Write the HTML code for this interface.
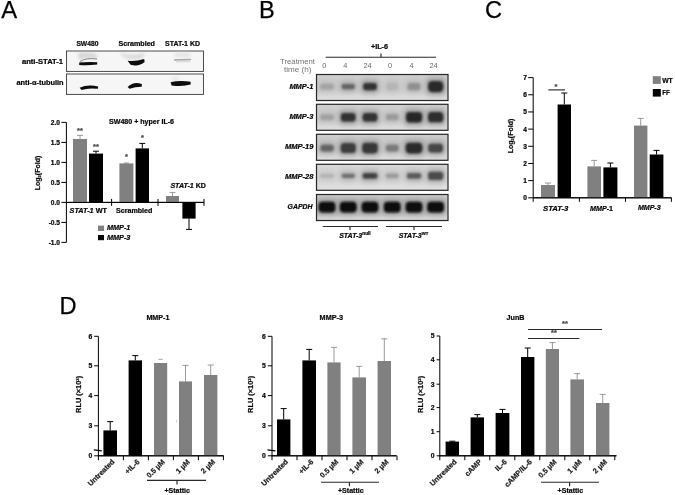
<!DOCTYPE html>
<html lang="en"><head><meta charset="utf-8"><title>Figure</title>
<style>
html,body{margin:0;padding:0;background:#fff;}
body{width:675px;height:495px;overflow:hidden;}
svg{display:block;font-family:"Liberation Sans",sans-serif;}
</style></head><body>
<svg width="675" height="495" viewBox="0 0 675 495">
<defs>
<filter id="b1" x="-30%" y="-60%" width="160%" height="220%"><feGaussianBlur stdDeviation="0.7"/></filter>
<filter id="b2" x="-30%" y="-60%" width="160%" height="220%"><feGaussianBlur stdDeviation="1.6"/></filter>
<filter id="b3" x="-30%" y="-60%" width="160%" height="220%"><feGaussianBlur stdDeviation="2.4"/></filter>
<filter id="b15" x="-30%" y="-60%" width="160%" height="220%"><feGaussianBlur stdDeviation="1.25"/></filter>
<filter id="soft"><feGaussianBlur stdDeviation="0.35"/></filter>
</defs>
<rect width="675" height="495" fill="#fff"/>
<g filter="url(#soft)">

<text x="1.3" y="18" font-size="23.8" font-weight="normal" fill="#000" stroke="#000" stroke-width="0.25">A</text>
<text x="259" y="18" font-size="23.6" font-weight="normal" fill="#000" stroke="#000" stroke-width="0.25">B</text>
<text x="485" y="18.2" font-size="23.6" font-weight="normal" fill="#000" stroke="#000" stroke-width="0.25">C</text>
<text x="59.5" y="314.4" font-size="23.6" font-weight="normal" fill="#000" stroke="#000" stroke-width="0.25">D</text>
<text x="76.4" y="45.6" font-size="7" font-weight="bold" stroke="#1a1a1a" stroke-width="0.22" textLength="22" lengthAdjust="spacingAndGlyphs">SW480</text>
<text x="118.4" y="45.6" font-size="7" font-weight="bold" stroke="#1a1a1a" stroke-width="0.22" textLength="36.6" lengthAdjust="spacingAndGlyphs">Scrambled</text>
<text x="165" y="45.6" font-size="7" font-weight="bold" stroke="#1a1a1a" stroke-width="0.22" textLength="35" lengthAdjust="spacingAndGlyphs">STAT-1 KD</text>
<text x="63" y="63.7" font-size="7" font-weight="bold" text-anchor="end" stroke="#1a1a1a" stroke-width="0.22" textLength="41" lengthAdjust="spacingAndGlyphs">anti-STAT-1</text>
<text x="63.6" y="84.5" font-size="7" font-weight="bold" text-anchor="end" stroke="#1a1a1a" stroke-width="0.22" textLength="47.2" lengthAdjust="spacingAndGlyphs">anti-α-tubulin</text>
<rect x="66.5" y="51" width="137" height="20.4" fill="#f6f6f6" stroke="#3a3a3a" stroke-width="0.9"/>
<rect x="66.5" y="74" width="137" height="20.4" fill="#f6f6f6" stroke="#3a3a3a" stroke-width="0.9"/>
<g filter="url(#b2)" opacity="0.55">
<path d="M78 53 Q88 51 97 54 L97 59 Q88 57 79 60Z" fill="#bdbdbd"/>
<path d="M120 52.5 Q132 57 145 52.5 L143 58 Q133 61 123 57Z" fill="#c4c4c4"/>
<rect x="175" y="52.5" width="15" height="5" fill="#d8d8d8"/>
<rect x="172" y="77" width="7" height="3.5" fill="#d8d8d8"/>
</g>
<g filter="url(#b1)">
<path d="M79.2 62.6 Q88 61.4 97.2 62.2 L97.2 64.6 Q88 65.6 79.2 65Z" fill="#0a0a0a"/>
<path d="M80 61.6 Q86 57.4 97 59" stroke="#8a8a8a" stroke-width="1" fill="none"/>
<path d="M127.6 60.8 Q136 61.6 144.2 59 L144.6 62 Q139 67 130.6 64.8Z" fill="#0a0a0a"/>
<path d="M174 59.2 L191 58.8 L191 60.2 L174 60.8Z" fill="#a5a5a5"/>
<path d="M176 62 L190 61.6" stroke="#c8c8c8" stroke-width="0.8"/>
<path d="M79.6 87.8 Q88 83.8 98.2 86.6 L97.8 88.8 Q88 87.6 81.6 90Z" fill="#0a0a0a"/>
<path d="M127.6 87 Q134 81 142 84.2 L141.6 86.8 Q135 87 129.6 88.8Z" fill="#0a0a0a"/>
<path d="M170.6 82.2 Q180 79.8 190.6 81.8 L190.6 84.6 Q182 87 171.6 85.4Z" fill="#0a0a0a"/>
</g>
<line x1="66.4" y1="122.4" x2="66.4" y2="242.4" stroke="#000" stroke-width="1"/>
<line x1="61.400000000000006" y1="122.4" x2="66.4" y2="122.4" stroke="#000" stroke-width="1"/>
<text x="60.00000000000001" y="124.80000000000001" font-size="6.6" font-weight="bold" text-anchor="end" stroke="#1a1a1a" stroke-width="0.22">2.0</text>
<line x1="61.400000000000006" y1="142.4" x2="66.4" y2="142.4" stroke="#000" stroke-width="1"/>
<text x="60.00000000000001" y="144.8" font-size="6.6" font-weight="bold" text-anchor="end" stroke="#1a1a1a" stroke-width="0.22">1.5</text>
<line x1="61.400000000000006" y1="162.4" x2="66.4" y2="162.4" stroke="#000" stroke-width="1"/>
<text x="60.00000000000001" y="164.8" font-size="6.6" font-weight="bold" text-anchor="end" stroke="#1a1a1a" stroke-width="0.22">1.0</text>
<line x1="61.400000000000006" y1="182.4" x2="66.4" y2="182.4" stroke="#000" stroke-width="1"/>
<text x="60.00000000000001" y="184.8" font-size="6.6" font-weight="bold" text-anchor="end" stroke="#1a1a1a" stroke-width="0.22">0.5</text>
<line x1="61.400000000000006" y1="202.4" x2="66.4" y2="202.4" stroke="#000" stroke-width="1"/>
<text x="60.00000000000001" y="204.8" font-size="6.6" font-weight="bold" text-anchor="end" stroke="#1a1a1a" stroke-width="0.22">0.0</text>
<line x1="61.400000000000006" y1="222.4" x2="66.4" y2="222.4" stroke="#000" stroke-width="1"/>
<text x="60.00000000000001" y="224.8" font-size="6.6" font-weight="bold" text-anchor="end" stroke="#1a1a1a" stroke-width="0.22">-0.5</text>
<line x1="61.400000000000006" y1="242.4" x2="66.4" y2="242.4" stroke="#000" stroke-width="1"/>
<text x="60.00000000000001" y="244.8" font-size="6.6" font-weight="bold" text-anchor="end" stroke="#1a1a1a" stroke-width="0.22">-1.0</text>
<line x1="66.4" y1="202.4" x2="204" y2="202.4" stroke="#000" stroke-width="1"/>
<line x1="111.6" y1="198.9" x2="111.6" y2="205.9" stroke="#000" stroke-width="1"/>
<line x1="158" y1="198.9" x2="158" y2="205.9" stroke="#000" stroke-width="1"/>
<line x1="204" y1="198.9" x2="204" y2="205.9" stroke="#000" stroke-width="1"/>
<text x="39.5" y="173" font-size="7" font-weight="bold" text-anchor="middle" stroke="#1a1a1a" stroke-width="0.22" transform="rotate(-90 39.5 173)">Log<tspan font-size="4" dy="1">2</tspan><tspan dy="-1">(Fold)</tspan></text>
<text x="109" y="124" font-size="7" font-weight="bold" stroke="#1a1a1a" stroke-width="0.22" textLength="65" lengthAdjust="spacingAndGlyphs">SW480 + hyper IL-6</text>
<line x1="80.0" y1="139" x2="80.0" y2="135.4" stroke="#808080" stroke-width="0.8"/>
<line x1="77.0" y1="135.4" x2="83.0" y2="135.4" stroke="#808080" stroke-width="0.8"/>
<rect x="73.0" y="139.0" width="14.0" height="63.4" fill="#808080"/>
<line x1="96.0" y1="153.6" x2="96.0" y2="151.2" stroke="#000" stroke-width="1"/>
<line x1="93.0" y1="151.2" x2="99.0" y2="151.2" stroke="#000" stroke-width="1"/>
<rect x="89.0" y="153.6" width="14.0" height="48.8" fill="#000"/>
<line x1="126.4" y1="163.4" x2="126.4" y2="163.0" stroke="#808080" stroke-width="0.8"/>
<line x1="123.9" y1="163.0" x2="128.9" y2="163.0" stroke="#808080" stroke-width="0.8"/>
<rect x="119.4" y="163.4" width="14.0" height="39.0" fill="#808080"/>
<line x1="142.3" y1="148.4" x2="142.3" y2="143.4" stroke="#000" stroke-width="1"/>
<line x1="139.3" y1="143.4" x2="145.3" y2="143.4" stroke="#000" stroke-width="1"/>
<rect x="135.6" y="148.4" width="13.4" height="54.0" fill="#000"/>
<line x1="172.5" y1="196" x2="172.5" y2="192.4" stroke="#808080" stroke-width="0.8"/>
<line x1="169.5" y1="192.4" x2="175.5" y2="192.4" stroke="#808080" stroke-width="0.8"/>
<rect x="166.0" y="196.0" width="13.0" height="6.4" fill="#808080"/>
<line x1="189.0" y1="218.6" x2="189.0" y2="229.4" stroke="#000" stroke-width="1"/>
<line x1="186.0" y1="229.4" x2="192.0" y2="229.4" stroke="#000" stroke-width="1"/>
<rect x="182.4" y="202.4" width="13.2" height="16.2" fill="#000"/>
<line x1="66.4" y1="202.4" x2="204" y2="202.4" stroke="#000" stroke-width="1"/>
<text x="80" y="132.6" font-size="7.4" font-weight="bold" text-anchor="middle" fill="#484848" stroke="#484848" stroke-width="0.22">**</text>
<text x="96" y="148.6" font-size="7.4" font-weight="bold" text-anchor="middle" fill="#484848" stroke="#484848" stroke-width="0.22">**</text>
<text x="126.4" y="159.2" font-size="7.4" font-weight="bold" text-anchor="middle" fill="#484848" stroke="#484848" stroke-width="0.22">*</text>
<text x="142.4" y="139.6" font-size="7.4" font-weight="bold" text-anchor="middle" fill="#484848" stroke="#484848" stroke-width="0.22">*</text>
<text x="69.6" y="213.4" font-size="7" font-weight="bold" stroke="#1a1a1a" stroke-width="0.22" textLength="37.4" lengthAdjust="spacingAndGlyphs"><tspan font-style="italic">STAT-1</tspan> WT</text>
<text x="116" y="213.4" font-size="7" font-weight="bold" stroke="#1a1a1a" stroke-width="0.22" textLength="36.4" lengthAdjust="spacingAndGlyphs">Scrambled</text>
<text x="170.4" y="187.6" font-size="7" font-weight="bold" stroke="#1a1a1a" stroke-width="0.22" textLength="35.6" lengthAdjust="spacingAndGlyphs"><tspan font-style="italic">STAT-1</tspan> KD</text>
<rect x="98.0" y="225.6" width="6.0" height="5.4" fill="#808080"/>
<rect x="98.0" y="235.0" width="6.0" height="5.2" fill="#000"/>
<text x="107" y="230.2" font-size="7" font-weight="bold" font-style="italic" stroke="#1a1a1a" stroke-width="0.22" textLength="23.4" lengthAdjust="spacingAndGlyphs">MMP-1</text>
<text x="107" y="239.6" font-size="7" font-weight="bold" font-style="italic" stroke="#1a1a1a" stroke-width="0.22" textLength="23.4" lengthAdjust="spacingAndGlyphs">MMP-3</text>
<text x="371" y="49.3" font-size="7" font-weight="bold" stroke="#1a1a1a" stroke-width="0.22" textLength="17" lengthAdjust="spacingAndGlyphs">+IL-6</text>
<line x1="325.6" y1="57.2" x2="436" y2="57.2" stroke="#2a2a2a" stroke-width="1.15"/>
<line x1="381" y1="53.4" x2="381" y2="57.2" stroke="#2a2a2a" stroke-width="1.15"/>
<text x="315" y="64" font-size="7.6" font-weight="normal" text-anchor="end" fill="#727272" textLength="35" lengthAdjust="spacingAndGlyphs">Treatment</text>
<text x="311.4" y="71.8" font-size="7.6" font-weight="normal" text-anchor="end" fill="#727272" textLength="27.4" lengthAdjust="spacingAndGlyphs">time (h)</text>
<text x="324.4" y="68" font-size="7.4" font-weight="normal" text-anchor="middle" fill="#6a6a6a">0</text>
<text x="345.4" y="68" font-size="7.4" font-weight="normal" text-anchor="middle" fill="#6a6a6a">4</text>
<text x="367.6" y="68" font-size="7.4" font-weight="normal" text-anchor="middle" fill="#6a6a6a">24</text>
<text x="390" y="68" font-size="7.4" font-weight="normal" text-anchor="middle" fill="#6a6a6a">0</text>
<text x="411.6" y="68" font-size="7.4" font-weight="normal" text-anchor="middle" fill="#6a6a6a">4</text>
<text x="433.6" y="68" font-size="7.4" font-weight="normal" text-anchor="middle" fill="#6a6a6a">24</text>
<clipPath id="cMMP-1"><rect x="316.5" y="74.5" width="131.5" height="26"/></clipPath>
<rect x="316.5" y="74.5" width="131.5" height="26" fill="#cfcfcf"/>
<g clip-path="url(#cMMP-1)">
<rect x="316" y="93.5" width="133" height="9" fill="#e2e2e2" opacity="0.7" filter="url(#b3)"/>
<rect x="318.0" y="80.3" width="18.0" height="12.5" rx="4" fill="#555" opacity="0.12" filter="url(#b3)"/>
<rect x="320.1" y="83.8" width="13.8" height="5.7" rx="2.3" fill="#1c1c1c" opacity="0.16" filter="url(#b15)"/>
<rect x="339.4" y="80.6" width="17.5" height="12.0" rx="4" fill="#555" opacity="0.25" filter="url(#b3)"/>
<rect x="341.6" y="84.0" width="13.3" height="5.2" rx="2.1" fill="#1c1c1c" opacity="0.52" filter="url(#b15)"/>
<rect x="361.0" y="79.6" width="18.0" height="14.0" rx="4" fill="#555" opacity="0.37" filter="url(#b3)"/>
<rect x="363.1" y="83.0" width="13.8" height="7.2" rx="2.9" fill="#1c1c1c" opacity="0.84" filter="url(#b15)"/>
<rect x="384.2" y="79.6" width="16.0" height="14.0" rx="4" fill="#555" opacity="0.09" filter="url(#b3)"/>
<rect x="386.3" y="83.0" width="11.8" height="7.2" rx="2.9" fill="#1c1c1c" opacity="0.08" filter="url(#b15)"/>
<rect x="405.5" y="79.6" width="17.0" height="14.0" rx="4" fill="#555" opacity="0.16" filter="url(#b3)"/>
<rect x="407.6" y="83.0" width="12.8" height="7.2" rx="2.9" fill="#1c1c1c" opacity="0.26" filter="url(#b15)"/>
<rect x="425.9" y="77.6" width="19.5" height="18.0" rx="4" fill="#555" opacity="0.38" filter="url(#b3)"/>
<rect x="428.0" y="81.0" width="15.3" height="11.2" rx="4.3" fill="#1c1c1c" opacity="0.88" filter="url(#b15)"/>
</g>
<rect x="316.5" y="74.5" width="131.5" height="26" fill="none" stroke="#262626" stroke-width="1.2"/>
<text x="313.4" y="89.0" font-size="7.4" font-weight="bold" font-style="italic" text-anchor="end" stroke="#1a1a1a" stroke-width="0.22" textLength="24" lengthAdjust="spacingAndGlyphs">MMP-1</text>
<clipPath id="cMMP-3"><rect x="316.5" y="104.3" width="131.5" height="26"/></clipPath>
<rect x="316.5" y="104.3" width="131.5" height="26" fill="#d0d0d0"/>
<g clip-path="url(#cMMP-3)">
<rect x="316" y="123.30000000000001" width="133" height="9" fill="#e2e2e2" opacity="0.7" filter="url(#b3)"/>
<rect x="318.0" y="111.0" width="18.0" height="12.5" rx="4" fill="#555" opacity="0.13" filter="url(#b3)"/>
<rect x="320.1" y="114.4" width="13.8" height="5.7" rx="2.3" fill="#1c1c1c" opacity="0.19" filter="url(#b15)"/>
<rect x="338.7" y="109.5" width="19.0" height="15.5" rx="4" fill="#555" opacity="0.37" filter="url(#b3)"/>
<rect x="340.8" y="112.9" width="14.8" height="8.7" rx="3.4" fill="#1c1c1c" opacity="0.84" filter="url(#b15)"/>
<rect x="360.5" y="109.5" width="19.0" height="15.5" rx="4" fill="#555" opacity="0.37" filter="url(#b3)"/>
<rect x="362.6" y="112.9" width="14.8" height="8.7" rx="3.4" fill="#1c1c1c" opacity="0.84" filter="url(#b15)"/>
<rect x="383.7" y="110.7" width="17.0" height="13.0" rx="4" fill="#555" opacity="0.14" filter="url(#b3)"/>
<rect x="385.8" y="114.1" width="12.8" height="6.2" rx="2.5" fill="#1c1c1c" opacity="0.21" filter="url(#b15)"/>
<rect x="403.8" y="108.5" width="20.5" height="17.5" rx="4" fill="#555" opacity="0.39" filter="url(#b3)"/>
<rect x="405.9" y="111.9" width="16.3" height="10.7" rx="4.1" fill="#1c1c1c" opacity="0.90" filter="url(#b15)"/>
<rect x="425.9" y="108.7" width="19.5" height="17.0" rx="4" fill="#555" opacity="0.38" filter="url(#b3)"/>
<rect x="428.0" y="112.1" width="15.3" height="10.2" rx="3.9" fill="#1c1c1c" opacity="0.87" filter="url(#b15)"/>
</g>
<rect x="316.5" y="104.3" width="131.5" height="26" fill="none" stroke="#262626" stroke-width="1.2"/>
<text x="313.4" y="118.8" font-size="7.4" font-weight="bold" font-style="italic" text-anchor="end" stroke="#1a1a1a" stroke-width="0.22" textLength="24" lengthAdjust="spacingAndGlyphs">MMP-3</text>
<clipPath id="cMMP-19"><rect x="316.5" y="134.3" width="131.5" height="26"/></clipPath>
<rect x="316.5" y="134.3" width="131.5" height="26" fill="#cecece"/>
<g clip-path="url(#cMMP-19)">
<rect x="316" y="153.3" width="133" height="9" fill="#e2e2e2" opacity="0.7" filter="url(#b3)"/>
<rect x="318.2" y="141.2" width="17.5" height="13.5" rx="4" fill="#555" opacity="0.25" filter="url(#b3)"/>
<rect x="320.4" y="144.7" width="13.3" height="6.7" rx="2.7" fill="#1c1c1c" opacity="0.51" filter="url(#b15)"/>
<rect x="338.4" y="139.5" width="19.5" height="17.0" rx="4" fill="#555" opacity="0.34" filter="url(#b3)"/>
<rect x="340.6" y="142.9" width="15.3" height="10.2" rx="3.9" fill="#1c1c1c" opacity="0.76" filter="url(#b15)"/>
<rect x="360.0" y="139.2" width="20.0" height="17.5" rx="4" fill="#555" opacity="0.35" filter="url(#b3)"/>
<rect x="362.1" y="142.7" width="15.8" height="10.7" rx="4.1" fill="#1c1c1c" opacity="0.80" filter="url(#b15)"/>
<rect x="383.7" y="141.2" width="17.0" height="13.5" rx="4" fill="#555" opacity="0.20" filter="url(#b3)"/>
<rect x="385.8" y="144.7" width="12.8" height="6.7" rx="2.7" fill="#1c1c1c" opacity="0.39" filter="url(#b15)"/>
<rect x="403.5" y="139.2" width="21.0" height="17.5" rx="4" fill="#555" opacity="0.38" filter="url(#b3)"/>
<rect x="405.6" y="142.7" width="16.8" height="10.7" rx="4.1" fill="#1c1c1c" opacity="0.88" filter="url(#b15)"/>
<rect x="426.1" y="140.2" width="19.0" height="15.5" rx="4" fill="#555" opacity="0.32" filter="url(#b3)"/>
<rect x="428.2" y="143.7" width="14.8" height="8.7" rx="3.4" fill="#1c1c1c" opacity="0.71" filter="url(#b15)"/>
</g>
<rect x="316.5" y="134.3" width="131.5" height="26" fill="none" stroke="#262626" stroke-width="1.2"/>
<text x="313.4" y="148.8" font-size="7.4" font-weight="bold" font-style="italic" text-anchor="end" stroke="#1a1a1a" stroke-width="0.22" textLength="28.5" lengthAdjust="spacingAndGlyphs">MMP-19</text>
<clipPath id="cMMP-28"><rect x="316.5" y="164.3" width="131.5" height="26"/></clipPath>
<rect x="316.5" y="164.3" width="131.5" height="26" fill="#d8d8d8"/>
<g clip-path="url(#cMMP-28)">
<rect x="316" y="183.3" width="133" height="9" fill="#e2e2e2" opacity="0.7" filter="url(#b3)"/>
<rect x="318.0" y="170.6" width="18.0" height="10.5" rx="4" fill="#555" opacity="0.11" filter="url(#b3)"/>
<rect x="320.1" y="174.0" width="13.8" height="3.7" rx="1.6" fill="#1c1c1c" opacity="0.13" filter="url(#b15)"/>
<rect x="339.4" y="170.3" width="17.5" height="11.0" rx="4" fill="#555" opacity="0.24" filter="url(#b3)"/>
<rect x="341.6" y="173.7" width="13.3" height="4.2" rx="1.8" fill="#1c1c1c" opacity="0.48" filter="url(#b15)"/>
<rect x="360.5" y="169.6" width="19.0" height="12.5" rx="4" fill="#555" opacity="0.33" filter="url(#b3)"/>
<rect x="362.6" y="173.0" width="14.8" height="5.7" rx="2.3" fill="#1c1c1c" opacity="0.73" filter="url(#b15)"/>
<rect x="383.7" y="170.1" width="17.0" height="11.5" rx="4" fill="#555" opacity="0.15" filter="url(#b3)"/>
<rect x="385.8" y="173.5" width="12.8" height="4.7" rx="2.0" fill="#1c1c1c" opacity="0.24" filter="url(#b15)"/>
<rect x="404.8" y="169.6" width="18.5" height="12.5" rx="4" fill="#555" opacity="0.27" filter="url(#b3)"/>
<rect x="406.9" y="173.0" width="14.3" height="5.7" rx="2.3" fill="#1c1c1c" opacity="0.58" filter="url(#b15)"/>
<rect x="425.9" y="168.3" width="19.5" height="15.0" rx="4" fill="#555" opacity="0.30" filter="url(#b3)"/>
<rect x="428.0" y="171.7" width="15.3" height="8.2" rx="3.2" fill="#1c1c1c" opacity="0.67" filter="url(#b15)"/>
</g>
<rect x="316.5" y="164.3" width="131.5" height="26" fill="none" stroke="#262626" stroke-width="1.2"/>
<text x="313.4" y="178.8" font-size="7.4" font-weight="bold" font-style="italic" text-anchor="end" stroke="#1a1a1a" stroke-width="0.22" textLength="28.5" lengthAdjust="spacingAndGlyphs">MMP-28</text>
<clipPath id="cGAPDH"><rect x="316.5" y="194.5" width="131.5" height="26"/></clipPath>
<rect x="316.5" y="194.5" width="131.5" height="26" fill="#cbcbcb"/>
<g clip-path="url(#cGAPDH)">
<rect x="316" y="213.5" width="133" height="9" fill="#e2e2e2" opacity="0.7" filter="url(#b3)"/>
<rect x="316.5" y="198.4" width="21.0" height="17.5" rx="4" fill="#555" opacity="0.40" filter="url(#b3)"/>
<rect x="318.6" y="201.8" width="16.8" height="10.7" rx="4.1" fill="#0a0a0a" opacity="1.00" filter="url(#b15)"/>
<rect x="337.7" y="198.4" width="21.0" height="17.5" rx="4" fill="#555" opacity="0.40" filter="url(#b3)"/>
<rect x="339.8" y="201.8" width="16.8" height="10.7" rx="4.1" fill="#0a0a0a" opacity="1.00" filter="url(#b15)"/>
<rect x="359.5" y="198.4" width="21.0" height="17.5" rx="4" fill="#555" opacity="0.40" filter="url(#b3)"/>
<rect x="361.6" y="201.8" width="16.8" height="10.7" rx="4.1" fill="#0a0a0a" opacity="1.00" filter="url(#b15)"/>
<rect x="381.7" y="198.4" width="21.0" height="17.5" rx="4" fill="#555" opacity="0.40" filter="url(#b3)"/>
<rect x="383.8" y="201.8" width="16.8" height="10.7" rx="4.1" fill="#0a0a0a" opacity="1.00" filter="url(#b15)"/>
<rect x="403.5" y="198.4" width="21.0" height="17.5" rx="4" fill="#555" opacity="0.40" filter="url(#b3)"/>
<rect x="405.6" y="201.8" width="16.8" height="10.7" rx="4.1" fill="#0a0a0a" opacity="1.00" filter="url(#b15)"/>
<rect x="425.1" y="198.4" width="21.0" height="17.5" rx="4" fill="#555" opacity="0.40" filter="url(#b3)"/>
<rect x="427.2" y="201.8" width="16.8" height="10.7" rx="4.1" fill="#0a0a0a" opacity="1.00" filter="url(#b15)"/>
</g>
<rect x="316.5" y="194.5" width="131.5" height="26" fill="none" stroke="#262626" stroke-width="1.2"/>
<text x="312.6" y="209.0" font-size="7.4" font-weight="bold" font-style="italic" text-anchor="end" stroke="#1a1a1a" stroke-width="0.22" textLength="25" lengthAdjust="spacingAndGlyphs">GAPDH</text>
<line x1="322.7" y1="226.5" x2="378" y2="226.5" stroke="#2a2a2a" stroke-width="1.15"/>
<line x1="386" y1="226.5" x2="442" y2="226.5" stroke="#2a2a2a" stroke-width="1.15"/>
<line x1="350" y1="226.5" x2="350" y2="230" stroke="#2a2a2a" stroke-width="1.15"/>
<line x1="414" y1="226.5" x2="414" y2="230" stroke="#2a2a2a" stroke-width="1.15"/>
<text x="339.2" y="237.6" font-size="7" font-weight="bold" font-style="italic" stroke="#1a1a1a" stroke-width="0.22">STAT-3<tspan font-size="4.7" dy="-2.4" font-style="normal">null</tspan></text>
<text x="398.7" y="237.6" font-size="7" font-weight="bold" font-style="italic" stroke="#1a1a1a" stroke-width="0.22">STAT-3<tspan font-size="4.3" dy="-2.4" font-style="normal">WT</tspan></text>
<line x1="533.2" y1="77.6" x2="533.2" y2="197.8" stroke="#000" stroke-width="1"/>
<line x1="528.2" y1="197.8" x2="533.2" y2="197.8" stroke="#000" stroke-width="1"/>
<text x="527.0" y="200.20000000000002" font-size="6.6" font-weight="bold" text-anchor="end" stroke="#1a1a1a" stroke-width="0.22">0</text>
<line x1="528.2" y1="180.63" x2="533.2" y2="180.63" stroke="#000" stroke-width="1"/>
<text x="527.0" y="183.03" font-size="6.6" font-weight="bold" text-anchor="end" stroke="#1a1a1a" stroke-width="0.22">1</text>
<line x1="528.2" y1="163.46" x2="533.2" y2="163.46" stroke="#000" stroke-width="1"/>
<text x="527.0" y="165.86" font-size="6.6" font-weight="bold" text-anchor="end" stroke="#1a1a1a" stroke-width="0.22">2</text>
<line x1="528.2" y1="146.29000000000002" x2="533.2" y2="146.29000000000002" stroke="#000" stroke-width="1"/>
<text x="527.0" y="148.69000000000003" font-size="6.6" font-weight="bold" text-anchor="end" stroke="#1a1a1a" stroke-width="0.22">3</text>
<line x1="528.2" y1="129.12" x2="533.2" y2="129.12" stroke="#000" stroke-width="1"/>
<text x="527.0" y="131.52" font-size="6.6" font-weight="bold" text-anchor="end" stroke="#1a1a1a" stroke-width="0.22">4</text>
<line x1="528.2" y1="111.95" x2="533.2" y2="111.95" stroke="#000" stroke-width="1"/>
<text x="527.0" y="114.35000000000001" font-size="6.6" font-weight="bold" text-anchor="end" stroke="#1a1a1a" stroke-width="0.22">5</text>
<line x1="528.2" y1="94.78" x2="533.2" y2="94.78" stroke="#000" stroke-width="1"/>
<text x="527.0" y="97.18" font-size="6.6" font-weight="bold" text-anchor="end" stroke="#1a1a1a" stroke-width="0.22">6</text>
<line x1="528.2" y1="77.61" x2="533.2" y2="77.61" stroke="#000" stroke-width="1"/>
<text x="527.0" y="80.01" font-size="6.6" font-weight="bold" text-anchor="end" stroke="#1a1a1a" stroke-width="0.22">7</text>
<line x1="533.2" y1="197.8" x2="671.4" y2="197.8" stroke="#000" stroke-width="1"/>
<line x1="533.2" y1="197.8" x2="533.2" y2="201.8" stroke="#000" stroke-width="1"/>
<line x1="579.4" y1="197.8" x2="579.4" y2="201.8" stroke="#000" stroke-width="1"/>
<line x1="625.5" y1="197.8" x2="625.5" y2="201.8" stroke="#000" stroke-width="1"/>
<line x1="671.4" y1="197.8" x2="671.4" y2="201.8" stroke="#000" stroke-width="1"/>
<text x="513.0" y="136" font-size="7" font-weight="bold" text-anchor="middle" stroke="#1a1a1a" stroke-width="0.22" transform="rotate(-90 513.0 136)">Log<tspan font-size="4" dy="1">2</tspan><tspan dy="-1">(Fold)</tspan></text>
<line x1="548.0" y1="185" x2="548.0" y2="183" stroke="#808080" stroke-width="0.8"/>
<line x1="545.0" y1="183" x2="551.0" y2="183" stroke="#808080" stroke-width="0.8"/>
<rect x="541.0" y="185.0" width="14.0" height="12.8" fill="#808080"/>
<line x1="564.3" y1="104.5" x2="564.3" y2="93" stroke="#000" stroke-width="1"/>
<line x1="561.3" y1="93" x2="567.3" y2="93" stroke="#000" stroke-width="1"/>
<rect x="557.6" y="104.5" width="13.4" height="93.3" fill="#000"/>
<line x1="594.2" y1="166.4" x2="594.2" y2="160.4" stroke="#808080" stroke-width="0.8"/>
<line x1="591.2" y1="160.4" x2="597.2" y2="160.4" stroke="#808080" stroke-width="0.8"/>
<rect x="587.4" y="166.4" width="13.6" height="31.4" fill="#808080"/>
<line x1="610.4" y1="167.4" x2="610.4" y2="163" stroke="#000" stroke-width="1"/>
<line x1="607.4" y1="163" x2="613.4" y2="163" stroke="#000" stroke-width="1"/>
<rect x="603.4" y="167.4" width="14.0" height="30.4" fill="#000"/>
<line x1="640.7" y1="125.6" x2="640.7" y2="118.4" stroke="#808080" stroke-width="0.8"/>
<line x1="637.7" y1="118.4" x2="643.7" y2="118.4" stroke="#808080" stroke-width="0.8"/>
<rect x="634.0" y="125.6" width="13.4" height="72.2" fill="#808080"/>
<line x1="656.55" y1="154.5" x2="656.55" y2="150.4" stroke="#000" stroke-width="1"/>
<line x1="653.55" y1="150.4" x2="659.55" y2="150.4" stroke="#000" stroke-width="1"/>
<rect x="649.7" y="154.5" width="13.7" height="43.3" fill="#000"/>
<line x1="533.2" y1="197.8" x2="671.4" y2="197.8" stroke="#000" stroke-width="1"/>
<line x1="548.4" y1="89.9" x2="565" y2="89.9" stroke="#2a2a2a" stroke-width="1.15"/>
<text x="556" y="88.6" font-size="7.4" font-weight="bold" text-anchor="middle" fill="#484848" stroke="#484848" stroke-width="0.22">*</text>
<text x="543" y="211" font-size="7" font-weight="bold" stroke="#1a1a1a" stroke-width="0.22" textLength="25.4" lengthAdjust="spacingAndGlyphs"><tspan font-style="italic">STAT-3</tspan></text>
<text x="590" y="211" font-size="7" font-weight="bold" stroke="#1a1a1a" stroke-width="0.22" textLength="23" lengthAdjust="spacingAndGlyphs"><tspan font-style="italic">MMP</tspan>-1</text>
<text x="638" y="210.4" font-size="7" font-weight="bold" font-style="italic" stroke="#1a1a1a" stroke-width="0.22" textLength="22.6" lengthAdjust="spacingAndGlyphs">MMP-3</text>
<rect x="652.8" y="76.2" width="8.0" height="7.7" fill="#808080"/>
<rect x="652.8" y="89.0" width="8.0" height="7.6" fill="#000"/>
<text x="662.2" y="83" font-size="7.2" font-weight="bold" stroke="#1a1a1a" stroke-width="0.22" textLength="10.6" lengthAdjust="spacingAndGlyphs">WT</text>
<text x="662.2" y="95.3" font-size="7.2" font-weight="bold" stroke="#1a1a1a" stroke-width="0.22" textLength="7.6" lengthAdjust="spacingAndGlyphs">FF</text>
<line x1="98.4" y1="336.3" x2="98.4" y2="455.8" stroke="#000" stroke-width="1"/>
<line x1="94.2" y1="336.3" x2="98.4" y2="336.3" stroke="#000" stroke-width="1"/>
<text x="92.2" y="338.7" font-size="6.8" font-weight="bold" text-anchor="end" stroke="#1a1a1a" stroke-width="0.22">6</text>
<line x1="94.2" y1="365.8" x2="98.4" y2="365.8" stroke="#000" stroke-width="1"/>
<text x="92.2" y="368.2" font-size="6.8" font-weight="bold" text-anchor="end" stroke="#1a1a1a" stroke-width="0.22">5</text>
<line x1="94.2" y1="395.6" x2="98.4" y2="395.6" stroke="#000" stroke-width="1"/>
<text x="92.2" y="398.0" font-size="6.8" font-weight="bold" text-anchor="end" stroke="#1a1a1a" stroke-width="0.22">4</text>
<line x1="94.2" y1="425.8" x2="98.4" y2="425.8" stroke="#000" stroke-width="1"/>
<text x="92.2" y="428.2" font-size="6.8" font-weight="bold" text-anchor="end" stroke="#1a1a1a" stroke-width="0.22">3</text>
<line x1="94.2" y1="455.8" x2="98.4" y2="455.8" stroke="#000" stroke-width="1"/>
<text x="92.2" y="458.2" font-size="6.8" font-weight="bold" text-anchor="end" stroke="#1a1a1a" stroke-width="0.22">0</text>
<line x1="93.80000000000001" y1="449.8" x2="101.80000000000001" y2="450.8" stroke="#000" stroke-width="1.2"/>
<line x1="97.9" y1="455.8" x2="223.6" y2="455.8" stroke="#000" stroke-width="1"/>
<line x1="98.4" y1="455.8" x2="98.4" y2="460.2" stroke="#000" stroke-width="1"/>
<line x1="123.4" y1="455.8" x2="123.4" y2="460.2" stroke="#000" stroke-width="1"/>
<line x1="148.4" y1="455.8" x2="148.4" y2="460.2" stroke="#000" stroke-width="1"/>
<line x1="173.4" y1="455.8" x2="173.4" y2="460.2" stroke="#000" stroke-width="1"/>
<line x1="198.4" y1="455.8" x2="198.4" y2="460.2" stroke="#000" stroke-width="1"/>
<line x1="223.4" y1="455.8" x2="223.4" y2="460.2" stroke="#000" stroke-width="1"/>
<line x1="110.2" y1="430.4" x2="110.2" y2="421.6" stroke="#000" stroke-width="1"/>
<line x1="107.2" y1="421.6" x2="113.2" y2="421.6" stroke="#000" stroke-width="1"/>
<rect x="103.4" y="430.4" width="13.6" height="25.4" fill="#000"/>
<line x1="135.3" y1="360.4" x2="135.3" y2="355.6" stroke="#000" stroke-width="1"/>
<line x1="132.3" y1="355.6" x2="138.3" y2="355.6" stroke="#000" stroke-width="1"/>
<rect x="128.6" y="360.4" width="13.4" height="95.4" fill="#000"/>
<rect x="154.0" y="363.0" width="13.2" height="92.8" fill="#808080"/>
<line x1="185.5" y1="381.4" x2="185.5" y2="365.4" stroke="#808080" stroke-width="0.8"/>
<line x1="182.5" y1="365.4" x2="188.5" y2="365.4" stroke="#808080" stroke-width="0.8"/>
<rect x="179.0" y="381.4" width="13.0" height="74.4" fill="#808080"/>
<line x1="210.7" y1="375" x2="210.7" y2="365" stroke="#808080" stroke-width="0.8"/>
<line x1="207.7" y1="365" x2="213.7" y2="365" stroke="#808080" stroke-width="0.8"/>
<rect x="204.0" y="375.0" width="13.4" height="80.8" fill="#808080"/>
<line x1="97.9" y1="455.8" x2="223.6" y2="455.8" stroke="#000" stroke-width="1"/>
<text transform="translate(115.0 462.3) rotate(-45)" font-size="7.35" font-weight="bold" text-anchor="end" fill="#1a1a1a" stroke="#1a1a1a" stroke-width="0.22">Untreated</text>
<text transform="translate(140.1 462.3) rotate(-45)" font-size="7.35" font-weight="bold" text-anchor="end" fill="#1a1a1a" stroke="#1a1a1a" stroke-width="0.22">+IL-6</text>
<text transform="translate(165.4 462.3) rotate(-45)" font-size="7.35" font-weight="bold" text-anchor="end" fill="#1a1a1a" stroke="#1a1a1a" stroke-width="0.22">0.5 µM</text>
<text transform="translate(190.3 462.3) rotate(-45)" font-size="7.35" font-weight="bold" text-anchor="end" fill="#1a1a1a" stroke="#1a1a1a" stroke-width="0.22">1 µM</text>
<text transform="translate(215.5 462.3) rotate(-45)" font-size="7.35" font-weight="bold" text-anchor="end" fill="#1a1a1a" stroke="#1a1a1a" stroke-width="0.22">2 µM</text>
<text x="146.4" y="319.5" font-size="7" font-weight="bold" stroke="#1a1a1a" stroke-width="0.22" textLength="23" lengthAdjust="spacingAndGlyphs">MMP-1</text>
<text x="81.1" y="394.4" font-size="7.4" font-weight="bold" text-anchor="middle" stroke="#1a1a1a" stroke-width="0.22" transform="rotate(-90 81.1 394.4)">RLU (×10<tspan font-size="4.2" dy="-2.4">3</tspan><tspan dy="2.4">)</tspan></text>
<line x1="147" y1="480.4" x2="206" y2="480.4" stroke="#2a2a2a" stroke-width="1.15"/>
<line x1="177" y1="480.4" x2="177" y2="484.4" stroke="#2a2a2a" stroke-width="1.15"/>
<text x="164.4" y="492.6" font-size="7" font-weight="bold" stroke="#1a1a1a" stroke-width="0.22" textLength="25.6" lengthAdjust="spacingAndGlyphs">+Stattic</text>
<line x1="272" y1="336.3" x2="272" y2="455.8" stroke="#000" stroke-width="1"/>
<line x1="267.8" y1="336.3" x2="272" y2="336.3" stroke="#000" stroke-width="1"/>
<text x="265.8" y="338.7" font-size="6.8" font-weight="bold" text-anchor="end" stroke="#1a1a1a" stroke-width="0.22">6</text>
<line x1="267.8" y1="365.8" x2="272" y2="365.8" stroke="#000" stroke-width="1"/>
<text x="265.8" y="368.2" font-size="6.8" font-weight="bold" text-anchor="end" stroke="#1a1a1a" stroke-width="0.22">5</text>
<line x1="267.8" y1="395.6" x2="272" y2="395.6" stroke="#000" stroke-width="1"/>
<text x="265.8" y="398.0" font-size="6.8" font-weight="bold" text-anchor="end" stroke="#1a1a1a" stroke-width="0.22">4</text>
<line x1="267.8" y1="425.8" x2="272" y2="425.8" stroke="#000" stroke-width="1"/>
<text x="265.8" y="428.2" font-size="6.8" font-weight="bold" text-anchor="end" stroke="#1a1a1a" stroke-width="0.22">3</text>
<line x1="267.8" y1="455.8" x2="272" y2="455.8" stroke="#000" stroke-width="1"/>
<text x="265.8" y="458.2" font-size="6.8" font-weight="bold" text-anchor="end" stroke="#1a1a1a" stroke-width="0.22">0</text>
<line x1="267.4" y1="449.8" x2="275.4" y2="450.8" stroke="#000" stroke-width="1.2"/>
<line x1="271.5" y1="455.8" x2="396.6" y2="455.8" stroke="#000" stroke-width="1"/>
<line x1="272" y1="455.8" x2="272" y2="460.2" stroke="#000" stroke-width="1"/>
<line x1="297" y1="455.8" x2="297" y2="460.2" stroke="#000" stroke-width="1"/>
<line x1="322" y1="455.8" x2="322" y2="460.2" stroke="#000" stroke-width="1"/>
<line x1="347" y1="455.8" x2="347" y2="460.2" stroke="#000" stroke-width="1"/>
<line x1="372" y1="455.8" x2="372" y2="460.2" stroke="#000" stroke-width="1"/>
<line x1="397" y1="455.8" x2="397" y2="460.2" stroke="#000" stroke-width="1"/>
<line x1="283.7" y1="419.4" x2="283.7" y2="408.6" stroke="#000" stroke-width="1"/>
<line x1="280.7" y1="408.6" x2="286.7" y2="408.6" stroke="#000" stroke-width="1"/>
<rect x="277.0" y="419.4" width="13.4" height="36.4" fill="#000"/>
<line x1="309.2" y1="360.4" x2="309.2" y2="349.4" stroke="#000" stroke-width="1"/>
<line x1="306.2" y1="349.4" x2="312.2" y2="349.4" stroke="#000" stroke-width="1"/>
<rect x="302.4" y="360.4" width="13.6" height="95.4" fill="#000"/>
<line x1="334.0" y1="362.4" x2="334.0" y2="347.4" stroke="#808080" stroke-width="0.8"/>
<line x1="331.0" y1="347.4" x2="337.0" y2="347.4" stroke="#808080" stroke-width="0.8"/>
<rect x="327.4" y="362.4" width="13.2" height="93.4" fill="#808080"/>
<line x1="359.2" y1="377.4" x2="359.2" y2="366.4" stroke="#808080" stroke-width="0.8"/>
<line x1="356.2" y1="366.4" x2="362.2" y2="366.4" stroke="#808080" stroke-width="0.8"/>
<rect x="352.4" y="377.4" width="13.6" height="78.4" fill="#808080"/>
<line x1="384.3" y1="361" x2="384.3" y2="338.8" stroke="#808080" stroke-width="0.8"/>
<line x1="381.3" y1="338.8" x2="387.3" y2="338.8" stroke="#808080" stroke-width="0.8"/>
<rect x="377.6" y="361.0" width="13.4" height="94.8" fill="#808080"/>
<line x1="271.5" y1="455.8" x2="396.6" y2="455.8" stroke="#000" stroke-width="1"/>
<text transform="translate(288.5 462.3) rotate(-45)" font-size="7.35" font-weight="bold" text-anchor="end" fill="#1a1a1a" stroke="#1a1a1a" stroke-width="0.22">Untreated</text>
<text transform="translate(314.0 462.3) rotate(-45)" font-size="7.35" font-weight="bold" text-anchor="end" fill="#1a1a1a" stroke="#1a1a1a" stroke-width="0.22">+IL-6</text>
<text transform="translate(338.8 462.3) rotate(-45)" font-size="7.35" font-weight="bold" text-anchor="end" fill="#1a1a1a" stroke="#1a1a1a" stroke-width="0.22">0.5 µM</text>
<text transform="translate(364.0 462.3) rotate(-45)" font-size="7.35" font-weight="bold" text-anchor="end" fill="#1a1a1a" stroke="#1a1a1a" stroke-width="0.22">1 µM</text>
<text transform="translate(389.1 462.3) rotate(-45)" font-size="7.35" font-weight="bold" text-anchor="end" fill="#1a1a1a" stroke="#1a1a1a" stroke-width="0.22">2 µM</text>
<text x="319.6" y="319.5" font-size="7" font-weight="bold" stroke="#1a1a1a" stroke-width="0.22" textLength="23.4" lengthAdjust="spacingAndGlyphs">MMP-3</text>
<text x="253.5" y="394.4" font-size="7.4" font-weight="bold" text-anchor="middle" stroke="#1a1a1a" stroke-width="0.22" transform="rotate(-90 253.5 394.4)">RLU (×10<tspan font-size="4.2" dy="-2.4">3</tspan><tspan dy="2.4">)</tspan></text>
<line x1="321" y1="482.2" x2="379" y2="482.2" stroke="#2a2a2a" stroke-width="1.15"/>
<line x1="349.4" y1="482.2" x2="349.4" y2="486.2" stroke="#2a2a2a" stroke-width="1.15"/>
<text x="338" y="492.6" font-size="7" font-weight="bold" stroke="#1a1a1a" stroke-width="0.22" textLength="25.6" lengthAdjust="spacingAndGlyphs">+Stattic</text>
<line x1="439.8" y1="336" x2="439.8" y2="455.8" stroke="#000" stroke-width="1"/>
<line x1="436.6" y1="336" x2="439.8" y2="336" stroke="#000" stroke-width="1"/>
<text x="434.6" y="338.4" font-size="6.8" font-weight="bold" text-anchor="end" stroke="#1a1a1a" stroke-width="0.22">5</text>
<line x1="436.6" y1="359.8" x2="439.8" y2="359.8" stroke="#000" stroke-width="1"/>
<text x="434.6" y="362.2" font-size="6.8" font-weight="bold" text-anchor="end" stroke="#1a1a1a" stroke-width="0.22">4</text>
<line x1="436.6" y1="384.2" x2="439.8" y2="384.2" stroke="#000" stroke-width="1"/>
<text x="434.6" y="386.59999999999997" font-size="6.8" font-weight="bold" text-anchor="end" stroke="#1a1a1a" stroke-width="0.22">3</text>
<line x1="436.6" y1="407.6" x2="439.8" y2="407.6" stroke="#000" stroke-width="1"/>
<text x="434.6" y="410.0" font-size="6.8" font-weight="bold" text-anchor="end" stroke="#1a1a1a" stroke-width="0.22">2</text>
<line x1="436.6" y1="431.7" x2="439.8" y2="431.7" stroke="#000" stroke-width="1"/>
<text x="434.6" y="434.09999999999997" font-size="6.8" font-weight="bold" text-anchor="end" stroke="#1a1a1a" stroke-width="0.22">1</text>
<line x1="436.6" y1="455.8" x2="439.8" y2="455.8" stroke="#000" stroke-width="1"/>
<text x="434.6" y="458.2" font-size="6.8" font-weight="bold" text-anchor="end" stroke="#1a1a1a" stroke-width="0.22">0</text>
<line x1="439.3" y1="455.8" x2="616.4" y2="455.8" stroke="#000" stroke-width="1"/>
<line x1="439.8" y1="455.8" x2="439.8" y2="460.2" stroke="#000" stroke-width="1"/>
<line x1="464.8" y1="455.8" x2="464.8" y2="460.2" stroke="#000" stroke-width="1"/>
<line x1="489.8" y1="455.8" x2="489.8" y2="460.2" stroke="#000" stroke-width="1"/>
<line x1="514.8" y1="455.8" x2="514.8" y2="460.2" stroke="#000" stroke-width="1"/>
<line x1="539.8" y1="455.8" x2="539.8" y2="460.2" stroke="#000" stroke-width="1"/>
<line x1="564.8" y1="455.8" x2="564.8" y2="460.2" stroke="#000" stroke-width="1"/>
<line x1="589.8" y1="455.8" x2="589.8" y2="460.2" stroke="#000" stroke-width="1"/>
<line x1="614.8" y1="455.8" x2="614.8" y2="460.2" stroke="#000" stroke-width="1"/>
<line x1="452.3" y1="441.6" x2="452.3" y2="441.2" stroke="#000" stroke-width="1"/>
<line x1="449.3" y1="441.2" x2="455.3" y2="441.2" stroke="#000" stroke-width="1"/>
<rect x="445.6" y="441.6" width="13.4" height="14.2" fill="#000"/>
<line x1="477.3" y1="417.4" x2="477.3" y2="414.6" stroke="#000" stroke-width="1"/>
<line x1="474.3" y1="414.6" x2="480.3" y2="414.6" stroke="#000" stroke-width="1"/>
<rect x="470.6" y="417.4" width="13.4" height="38.4" fill="#000"/>
<line x1="502.5" y1="413" x2="502.5" y2="409.4" stroke="#000" stroke-width="1"/>
<line x1="499.5" y1="409.4" x2="505.5" y2="409.4" stroke="#000" stroke-width="1"/>
<rect x="495.6" y="413.0" width="13.8" height="42.8" fill="#000"/>
<line x1="527.7" y1="357" x2="527.7" y2="348" stroke="#000" stroke-width="1"/>
<line x1="524.7" y1="348" x2="530.7" y2="348" stroke="#000" stroke-width="1"/>
<rect x="521.0" y="357.0" width="13.4" height="98.8" fill="#000"/>
<line x1="552.4" y1="349" x2="552.4" y2="342.6" stroke="#808080" stroke-width="0.8"/>
<line x1="549.4" y1="342.6" x2="555.4" y2="342.6" stroke="#808080" stroke-width="0.8"/>
<rect x="545.8" y="349.0" width="13.2" height="106.8" fill="#808080"/>
<line x1="577.2" y1="379.4" x2="577.2" y2="373.6" stroke="#808080" stroke-width="0.8"/>
<line x1="574.2" y1="373.6" x2="580.2" y2="373.6" stroke="#808080" stroke-width="0.8"/>
<rect x="570.4" y="379.4" width="13.6" height="76.4" fill="#808080"/>
<line x1="602.7" y1="403" x2="602.7" y2="394.4" stroke="#808080" stroke-width="0.8"/>
<line x1="599.7" y1="394.4" x2="605.7" y2="394.4" stroke="#808080" stroke-width="0.8"/>
<rect x="596.0" y="403.0" width="13.4" height="52.8" fill="#808080"/>
<line x1="439.3" y1="455.8" x2="616.4" y2="455.8" stroke="#000" stroke-width="1"/>
<text transform="translate(457.1 462.3) rotate(-45)" font-size="7.35" font-weight="bold" text-anchor="end" fill="#1a1a1a" stroke="#1a1a1a" stroke-width="0.22">Untreated</text>
<text transform="translate(482.1 462.3) rotate(-45)" font-size="7.35" font-weight="bold" text-anchor="end" fill="#1a1a1a" stroke="#1a1a1a" stroke-width="0.22">cAMP</text>
<text transform="translate(507.3 462.3) rotate(-45)" font-size="7.35" font-weight="bold" text-anchor="end" fill="#1a1a1a" stroke="#1a1a1a" stroke-width="0.22">IL-6</text>
<text transform="translate(532.5 462.3) rotate(-45)" font-size="7.35" font-weight="bold" text-anchor="end" fill="#1a1a1a" stroke="#1a1a1a" stroke-width="0.22">cAMP/IL-6</text>
<text transform="translate(557.2 462.3) rotate(-45)" font-size="7.35" font-weight="bold" text-anchor="end" fill="#1a1a1a" stroke="#1a1a1a" stroke-width="0.22">0.5 µM</text>
<text transform="translate(582.0 462.3) rotate(-45)" font-size="7.35" font-weight="bold" text-anchor="end" fill="#1a1a1a" stroke="#1a1a1a" stroke-width="0.22">1 µM</text>
<text transform="translate(607.5 462.3) rotate(-45)" font-size="7.35" font-weight="bold" text-anchor="end" fill="#1a1a1a" stroke="#1a1a1a" stroke-width="0.22">2 µM</text>
<text x="506.6" y="319.5" font-size="7" font-weight="bold" stroke="#1a1a1a" stroke-width="0.22" textLength="17.8" lengthAdjust="spacingAndGlyphs">JunB</text>
<text x="423.3" y="394.4" font-size="7.4" font-weight="bold" text-anchor="middle" stroke="#1a1a1a" stroke-width="0.22" transform="rotate(-90 423.3 394.4)">RLU (×10<tspan font-size="4.2" dy="-2.4">3</tspan><tspan dy="2.4">)</tspan></text>
<line x1="541" y1="482.2" x2="599" y2="482.2" stroke="#2a2a2a" stroke-width="1.15"/>
<line x1="569.6" y1="482.2" x2="569.6" y2="486.2" stroke="#2a2a2a" stroke-width="1.15"/>
<text x="557.6" y="492.6" font-size="7" font-weight="bold" stroke="#1a1a1a" stroke-width="0.22" textLength="25.6" lengthAdjust="spacingAndGlyphs">+Stattic</text>
<line x1="158.4" y1="359.3" x2="162.8" y2="359.3" stroke="#9a9a9a" stroke-width="0.9"/>
<line x1="176.4" y1="420" x2="176.4" y2="422.6" stroke="#c4c4c4" stroke-width="0.8"/>
<line x1="528" y1="329.5" x2="602" y2="329.5" stroke="#2a2a2a" stroke-width="1.15"/>
<line x1="528" y1="338.5" x2="579.4" y2="338.5" stroke="#2a2a2a" stroke-width="1.15"/>
<text x="565" y="325.8" font-size="7.4" font-weight="bold" text-anchor="middle" fill="#484848" stroke="#484848" stroke-width="0.22">**</text>
<text x="554" y="334.8" font-size="7.4" font-weight="bold" text-anchor="middle" fill="#484848" stroke="#484848" stroke-width="0.22">**</text>
</g></svg></body></html>
